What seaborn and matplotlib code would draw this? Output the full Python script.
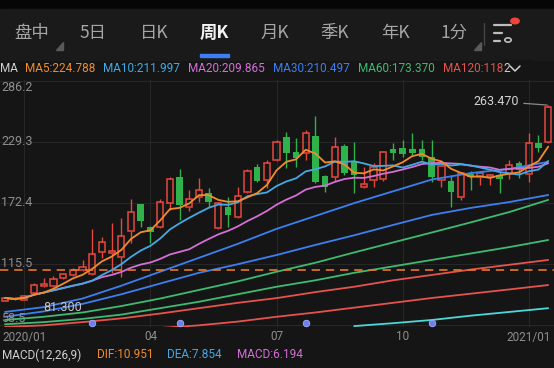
import matplotlib
matplotlib.use("Agg")
import matplotlib.pyplot as plt
from matplotlib.patches import Rectangle, Polygon, Circle
from matplotlib.lines import Line2D
import seaborn as sns
import numpy as np
import pandas as pd

# weekly candles (2020/01 .. 2021/01)
opens = [80.5, 83.5, 82.0, 88.0, 95.0, 94.5, 102.0, 104.5, 109.5, 106.0,
         126.7, 125.2, 122.0, 146.0, 170.9, 150.0, 150.0, 171.8, 196.0, 168.0,
         178.0, 181.0, 149.0, 168.7, 159.3, 182.7, 205.4, 193.6, 212.2, 234.0,
         220.0, 218.5, 234.6, 197.3, 196.1, 225.3, 210.6, 187.0, 193.6, 194.5,
         222.2, 223.7, 222.2, 222.5, 215.3, 193.6, 192.6, 177.4, 199.2, 196.7,
         196.7, 198.2, 199.2, 209.7, 199.2, 228.4, 229.3]
closes = [83.5, 81.8, 85.5, 95.5, 96.5, 101.3, 105.5, 110.0, 112.6, 124.5,
          136.0, 127.6, 141.3, 164.0, 155.3, 145.3, 173.3, 194.2, 170.0, 176.0,
          184.0, 173.0, 172.0, 161.0, 178.7, 202.3, 193.0, 209.7, 229.3, 218.5,
          213.8, 237.7, 192.0, 187.3, 224.1, 199.8, 198.2, 189.5, 205.6, 219.5,
          218.5, 217.5, 218.5, 215.3, 196.7, 206.6, 182.7, 199.8, 196.7, 199.8,
          198.6, 194.5, 207.6, 202.9, 227.8, 223.1, 262.0]
highs = [84.5, 84.0, 86.5, 97.8, 102.0, 104.0, 107.0, 111.5, 119.0, 147.5,
         140.4, 153.2, 157.8, 175.9, 171.5, 150.5, 175.6, 196.7, 203.5, 184.0,
         195.0, 186.0, 173.0, 177.4, 187.3, 203.5, 208.5, 212.2, 231.0, 238.6,
         232.5, 240.2, 253.3, 198.0, 234.0, 227.0, 229.3, 206.0, 209.1, 221.0,
         228.4, 231.0, 237.1, 231.0, 231.0, 208.0, 198.2, 201.0, 201.5, 202.0,
         199.5, 201.0, 212.2, 211.0, 237.1, 235.5, 263.47]
lows = [81.6, 81.3, 81.5, 87.0, 94.0, 94.0, 101.0, 104.0, 108.5, 105.0,
        120.8, 107.0, 103.4, 134.8, 150.0, 134.8, 149.0, 165.6, 156.0, 165.0,
        173.3, 168.7, 148.0, 150.0, 158.0, 181.0, 192.0, 185.8, 211.0, 204.5,
        206.0, 212.2, 191.0, 182.7, 192.9, 198.0, 181.2, 186.0, 187.3, 193.0,
        212.2, 215.0, 217.0, 212.0, 192.0, 186.8, 168.7, 174.9, 184.2, 188.9,
        189.0, 181.2, 194.5, 195.2, 192.0, 220.0, 228.0]

# slow averages, every 4 weeks
sample_weeks = [0, 4, 8, 12, 16, 20, 24, 28, 32, 36, 40, 44, 48, 52, 56]
ma_blue1 = [70.5, 75, 83, 95, 108, 121, 134, 148, 160, 172, 183, 194, 200, 204, 210.5]
ma_blue2 = [66, 71, 78, 87, 97, 107, 115, 123.6, 133, 142, 151.6, 161, 167.5, 173, 179.6]
ma_green1 = [63, 66, 70, 76, 83, 91, 99, 108, 116.4, 126, 135.3, 144.6, 154, 163.7, 175]
ma_green2 = [59, 61, 64, 68, 74, 80, 87, 94, 100, 107, 113, 119, 125, 131, 137.6]
ma_red1 = [56.5, 58, 61, 64.5, 69, 74, 79, 83.4, 89, 94, 100, 105, 110, 114.5, 119]
ma_red2 = [52, 52.5, 53, 54, 55.5, 58, 61.5, 66, 70, 74.5, 79, 83.5, 87.5, 91.5, 95.6]
cyan_weeks = [36, 40, 44, 48, 52, 56]
ma_cyan = [57.3, 60, 63, 67, 70.5, 74]

tabs = ["盘中", "5日", "日K", "周K", "月K", "季K", "年K", "1分"]
tab_x = [32, 93, 154, 214, 275, 335, 395, 454]
ma_labels = ["MA5:224.788", "MA10:211.997", "MA20:209.865", "MA30:210.497",
             "MA60:173.370", "MA120:118"]
ma_label_x = [25, 103, 188, 273, 358, 443]
y_ticks = [286.2, 229.3, 172.4, 115.5, 58.5]
date_weeks = [2, 15, 28, 41, 54]
date_labels = ["2020/01", "04", "07", "10", "2021/01"]
event_weeks = [9, 18, 31, 44]
cost_line = 109.2
macd_labels = ["MACD(12,26,9)", "DIF:10.951", "DEA:7.854", "MACD:6.194"]
macd_x = [2, 97, 167, 237]

BG = "#151515"
RED = "#e8473d"
GREEN = "#2fb24c"
ORANGE = "#f08c2c"
SKY = "#45a8e4"
PINK = "#d46fd6"
BLUE = "#3d7ff0"
MGREEN = "#3fba72"
MRED = "#e5534c"
CYAN = "#4fd6d6"
GRID = "#272727"
TXT = "#8e8e8e"

sns.set_style("dark")
plt.rcParams['font.family'] = ['Roboto', 'Noto Sans CJK SC', 'DejaVu Sans']

W, H = 554, 368
fig = plt.figure(figsize=(W / 100, H / 100), dpi=100, facecolor=BG)


def fy(y):
    return 1 - y / H


def fx(x):
    return x / W


# top strip + tab bar
fig.patches.append(Rectangle((0, fy(9)), 1, 9 / H, transform=fig.transFigure, color="#060606"))
fig.patches.append(Rectangle((0, fy(60)), 1, 51 / H, transform=fig.transFigure, color="#1a1a1a"))
for t, x in zip(tabs, tab_x):
    sel = t == "周K"
    fig.text(fx(x), fy(33), t, ha="center", va="center", fontsize=12.5,
             color="#f4f4f4" if sel else "#a6a6a6", fontweight="bold" if sel else "normal",
             family=['Noto Sans CJK SC', 'DejaVu Sans'])
fig.patches.append(Rectangle((fx(200), fy(57)), fx(29), 3 / H, transform=fig.transFigure, color="#3d7ef5"))
for x0 in [56, 474]:
    fig.patches.append(Polygon([[fx(x0 + 7), fy(42)], [fx(x0 + 7), fy(50)], [fx(x0), fy(50)]],
                               transform=fig.transFigure, color="#5a5a5a"))
fig.lines.append(Line2D([fx(484), fx(484)], [fy(23), fy(45)], transform=fig.transFigure, color="#444444", lw=1))
for yy, x1 in [(25, 511), (33, 502), (41, 500)]:
    fig.lines.append(Line2D([fx(494), fx(x1)], [fy(yy), fy(yy)], transform=fig.transFigure, color="#bdbdbd", lw=1.6))
fig.patches.append(Circle((fx(508), fy(40)), 3.2 / W, transform=fig.transFigure, fill=False, ec="#bdbdbd", lw=1.2))
fig.patches.append(Circle((fx(515), fy(21)), 4.2 / W, transform=fig.transFigure, color="#f0433a"))

# MA legend row
fig.text(fx(0), fy(68), "MA", ha="left", va="center", fontsize=8.5, color="#cfcfcf")
for lab, x, c in zip(ma_labels, ma_label_x, [ORANGE, SKY, PINK, BLUE, MGREEN, MRED]):
    fig.text(fx(x), fy(68), lab, ha="left", va="center", fontsize=8.5, color=c)
fig.patches.append(Rectangle((fx(502), fy(76)), fx(30), 16 / H, transform=fig.transFigure, color=BG, zorder=3))
fig.text(fx(503), fy(68), "2", ha="left", va="center", fontsize=8.5, color="#cfcfcf", zorder=4)
fig.lines.append(Line2D([fx(510), fx(515), fx(520)], [fy(66), fy(71), fy(66)], transform=fig.transFigure,
                        color="#cfcfcf", lw=1.1, zorder=4))

# main chart
ax = fig.add_axes([0, fy(327), 1, (327 - 80) / H])
ax.set_facecolor(BG)
ax.set_xlim(-0.515, 56.6)
ax.set_ylim(56.45, 286.85)
for s in ax.spines.values():
    s.set_visible(False)
ax.set_xticks([])
ax.set_yticks([])
ax.grid(False)

for v in y_ticks:
    ax.axhline(v, color=GRID, lw=0.8, zorder=0)
for w in date_weeks:
    ax.axvline(w, color=GRID, lw=0.8, zorder=0)

df = pd.DataFrame({"o": opens, "c": closes, "h": highs, "l": lows})
df["i"] = np.arange(len(df))
up = df[df.c >= df.o]
dn = df[df.c < df.o]
ax.vlines(up.i, up.c, up.h, color=RED, lw=1, zorder=2)
ax.vlines(up.i, up.l, up.o, color=RED, lw=1, zorder=2)
ax.bar(up.i, up.c - up.o, bottom=up.o, width=0.64, facecolor="none", edgecolor=RED, lw=1.1, zorder=2)
ax.vlines(dn.i, dn.l, dn.h, color=GREEN, lw=1, zorder=2)
ax.bar(dn.i, dn.o - dn.c, bottom=dn.c, width=0.68, color=GREEN, lw=0, zorder=2)

for vals, c in [(ma_blue1, BLUE), (ma_blue2, BLUE), (ma_green1, MGREEN), (ma_green2, MGREEN),
                (ma_red1, MRED), (ma_red2, MRED)]:
    sns.lineplot(x=sample_weeks, y=vals, ax=ax, color=c, lw=1.3, legend=False, zorder=4)
sns.lineplot(x=cyan_weeks, y=ma_cyan, ax=ax, color=CYAN, lw=1.3, legend=False, zorder=4)
for n, c in [(20, PINK), (10, SKY), (5, ORANGE)]:
    ma = df.c.rolling(n, min_periods=1).mean()
    sns.lineplot(x=df.i, y=ma, ax=ax, color=c, lw=1.3, legend=False, zorder=4)

ax.axhline(cost_line, color="#e7772a", lw=1.2, ls=(0, (5, 3.5)), zorder=5)

ax.scatter(event_weeks, [59.9] * len(event_weeks), s=22, color="#6f80ea", edgecolor="#9fb0ff", lw=0.6, zorder=6)

ax.set_xlabel("")
ax.set_ylabel("")

for v in y_ticks:
    va = "center"
    if v == y_ticks[0]:
        va = "top"
    if v == y_ticks[-1]:
        va = "bottom"
    ax.text(0.002, v, f"{v}", transform=ax.get_yaxis_transform(), ha="left", va=va, fontsize=9, color=TXT, zorder=7)

# max / min annotations
imax = int(np.argmax(highs))
ax.annotate(f"{highs[imax]:.3f}", xy=(imax - 0.1, highs[imax]), xytext=(imax - 3.0, highs[imax] + 3.5),
            ha="right", va="center", fontsize=9, color="#d4d4d4",
            arrowprops=dict(arrowstyle="-", color="#8a8a8a", lw=0.9, shrinkA=1, shrinkB=0), zorder=7)
imin = int(np.argmin(lows))
ax.text(imin + 4.9, lows[imin] - 6.2, f"{lows[imin]:.3f}", ha="center", va="center", fontsize=9,
        color="#c8c8c8", zorder=7)

# date labels
for w, lab in zip(date_weeks, date_labels):
    x = (w + 0.515) / 57.115 * W
    fig.text(fx(x), fy(337), lab, ha="center", va="center", fontsize=8.5, color=TXT)

# MACD legend
for lab, x, c in zip(macd_labels, macd_x, ["#d0d0d0", ORANGE, SKY, PINK]):
    fig.text(fx(x), fy(355), lab, ha="left", va="center", fontsize=8.5, color=c)

fig.savefig("out.png", dpi=100, facecolor=BG)
